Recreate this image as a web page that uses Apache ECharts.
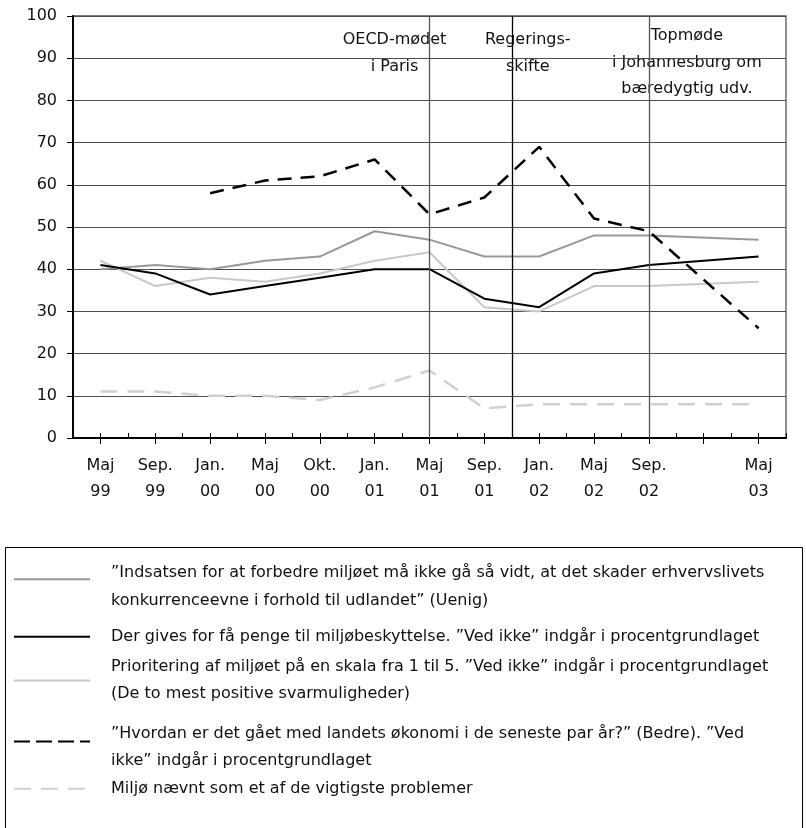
<!DOCTYPE html>
<html>
<head>
<meta charset="utf-8">
<script src="https://cdn.jsdelivr.net/npm/echarts@6/dist/echarts.min.js"></script>
<style>
html,body{margin:0;padding:0;background:#fff;}
#chart{width:806px;height:828px;}
</style>
</head>
<body>
<div id="chart"></div>
<script>
// ---- data ----
var categories = ['Maj\n99','Sep.\n99','Jan.\n00','Maj\n00','Okt.\n00','Jan.\n01','Maj\n01','Sep.\n01','Jan.\n02','Maj\n02','Sep.\n02','','Maj\n03'];
var seriesNames = [
  '\u201dIndsatsen for at forbedre milj\u00f8et m\u00e5 ikke g\u00e5 s\u00e5 vidt, at det skader erhvervslivets\nkonkurrenceevne i forhold til udlandet\u201d (Uenig)',
  'Der gives for f\u00e5 penge til milj\u00f8beskyttelse. \u201dVed ikke\u201d indg\u00e5r i procentgrundlaget',
  'Prioritering af milj\u00f8et p\u00e5 en skala fra 1 til 5. \u201dVed ikke\u201d indg\u00e5r i procentgrundlaget\n(De to mest positive svarmuligheder)',
  '\u201dHvordan er det g\u00e5et med landets \u00f8konomi i de seneste par \u00e5r?\u201d (Bedre). \u201dVed\nikke\u201d indg\u00e5r i procentgrundlaget',
  'Milj\u00f8 n\u00e6vnt som et af de vigtigste problemer'
];
var uenig      = [40,41,40,42,43,49,47,43,43,48,48,null,47];
var forFaa     = [41,39,34,36,38,40,40,33,31,39,41,null,43];
var prioritet  = [42,36,38,37,39,42,44,31,30,36,36,null,37];
var oekonomi   = [null,null,58,61,62,66,53,57,69,52,49,null,26];
var vigtigste  = [11,11,10,10,9,12,16,7,8,8,8,null,8];
var yTicks = [0,10,20,30,40,50,60,70,80,90,100];
var eventPositions = [6, 7.5, 10];
var eventLabels = [['OECD-m\u00f8det','i Paris'],['Regerings-','skifte'],['Topm\u00f8de','i Johannesburg om','b\u00e6redygtig udv.']];

// ---- styles ----
var FONT = '"DejaVu Sans", sans-serif';
var seriesData = [uenig, forFaa, prioritet, oekonomi, vigtigste];
var lineStyles = [
  {color:'#999999', width:2, type:'solid'},
  {color:'#000000', width:2, type:'solid'},
  {color:'#c8c8c8', width:2, type:'solid'},
  {color:'#000000', width:2.5, type:[14,9]},
  {color:'#d0d0d0', width:2.5, type:[17,10]}
];
var legendDash = ['solid','solid','solid',[16,6],[17,10]];
var legendTops = [544, 623, 653, 708, 775];
var legendShift = [15.5, 0, 0, 12, 0];
var eventDx = [-35, 16, 38];
var eventTop = [26, 26, 23];
var eventLH = [27, 27, 26.5];
var eventLineColors = ['#555555','#000000','#555555'];

function pairs(arr){ return arr.map(function(v,i){ return [i, v]; }); }

var series = seriesData.map(function(d, k){
  return {
    name: seriesNames[k], type:'line', xAxisIndex:1, data: pairs(d),
    symbol:'none', connectNulls:true, lineStyle: lineStyles[k], itemStyle:{color: lineStyles[k].color},
    z: [2,4,3,5,2][k], animation:false, silent:true
  };
});
series.push({
  type:'line', xAxisIndex:1, data:[], silent:true, animation:false,
  markLine:{
    symbol:['none','none'], silent:true, animation:false, label:{show:false},
    data: eventPositions.map(function(p,i){ return {xAxis:p, lineStyle:{color:eventLineColors[i], width:1.3, type:'solid'}}; })
  }
});

var legends = seriesNames.map(function(n,k){
  var sh = legendShift[k];
  return {
    data:[n], left:13, top:legendTops[k], orient:'vertical', padding:0,
    itemWidth:76, itemHeight:10, selectedMode:false,
    itemStyle:{color:'rgba(0,0,0,0)', borderColor:'rgba(0,0,0,0)', borderWidth:0, opacity:0},
    lineStyle:{type:legendDash[k], width:2},
    formatter: function(name){ return sh > 0 ? '{p|}\n' + name : name; },
    textStyle:{fontFamily:FONT, fontSize:16, color:'#111', lineHeight:27.5, padding:[0,0,0,16],
      rich:{p:{height:sh, lineHeight:sh, fontSize:1}}}
  };
});

var chart = echarts.init(document.getElementById('chart'), null, {renderer:'canvas'});
chart.setOption({
  animation:false,
  backgroundColor:'#ffffff',
  textStyle:{fontFamily:FONT},
  grid:{left:73, right:20, top:16, bottom:390, show:true, borderColor:'#555', borderWidth:1.3, backgroundColor:'transparent'},
  legend: legends,
  xAxis:[
    {type:'category', data:categories, boundaryGap:true, position:'bottom',
     axisLine:{show:true, onZero:false, lineStyle:{color:'#000', width:2}},
     axisTick:{show:true, alignWithLabel:true, inside:false, length:6, lineStyle:{color:'#000', width:1}},
     axisLabel:{show:true, interval:0, fontFamily:FONT, fontSize:16, color:'#111', lineHeight:26, margin:15},
     splitLine:{show:false}},
    {type:'value', min:-0.5, max:12.5, interval:0.5, position:'bottom',
     axisLine:{show:false, onZero:false}, axisLabel:{show:false}, splitLine:{show:false},
     axisTick:{show:true, inside:true, length:5, lineStyle:{color:'#000', width:1}}}
  ],
  yAxis:{type:'value', min:yTicks[0], max:yTicks[yTicks.length-1], interval:10,
    axisLine:{show:true, onZero:false, lineStyle:{color:'#000', width:2}},
    axisTick:{show:true, inside:false, length:6, lineStyle:{color:'#000', width:1}},
    axisLabel:{fontFamily:FONT, fontSize:16, color:'#111', margin:16},
    splitLine:{show:true, lineStyle:{color:'#4d4d4d', width:1}}
  },
  series: series,
  graphic:[{type:'rect', id:'legendBox', shape:{x:5.5, y:547.5, width:797, height:300}, style:{fill:'none', stroke:'#000', lineWidth:1}, silent:true}]
});

var g = [];
eventPositions.forEach(function(p,i){
  var px = chart.convertToPixel({xAxisIndex:1}, p);
  g.push({type:'text', id:'ev'+i, silent:true, x: px + eventDx[i], y: eventTop[i],
    style:{text: eventLabels[i].join('\n'), fill:'#111', font:'16px ' + FONT, fontFamily:FONT, fontSize:16,
      lineHeight:eventLH[i], align:'center', textAlign:'center', verticalAlign:'top', textVerticalAlign:'top'}});
});
chart.setOption({graphic:g});
</script>
</body>
</html>
